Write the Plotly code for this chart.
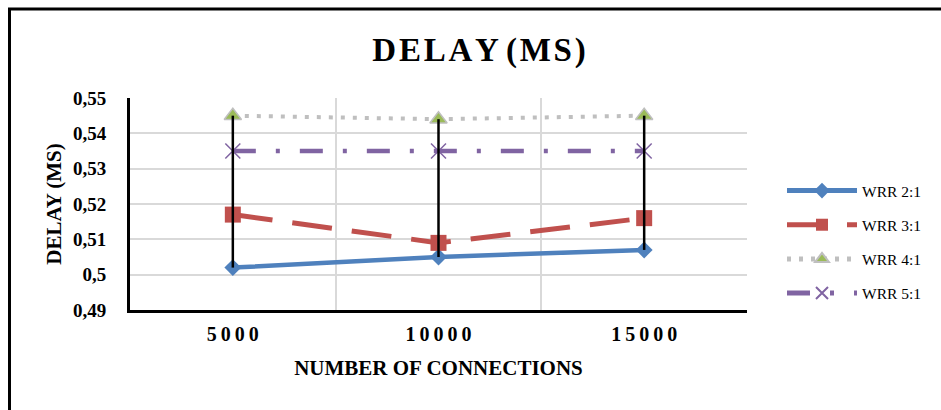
import plotly.graph_objects as go

# ---- data ----
categories = ["5000", "10000", "15000"]
series_names = ["WRR 2:1", "WRR 3:1", "WRR 4:1", "WRR 5:1"]
wrr_2_1 = [0.502, 0.505, 0.507]
wrr_3_1 = [0.517, 0.509, 0.516]
wrr_4_1 = [0.545, 0.544, 0.545]
wrr_5_1 = [0.535, 0.535, 0.535]
y_ticks = [0.49, 0.50, 0.51, 0.52, 0.53, 0.54, 0.55]

title_text = "DELAY (MS)"
x_title = "NUMBER OF CONNECTIONS"
y_title = "DELAY (MS)"

FONT = "Liberation Serif, Times New Roman, serif"
THIN = "\u2009"
HAIR = "\u200A"

def spaced(s, sep=THIN):
    return sep.join(list(s))

styles = [
    dict(line=dict(color="#4F81BD", width=4.5, dash="solid"),
         marker=dict(symbol="diamond", size=13, color="#4F81BD")),
    dict(line=dict(color="#C0504D", width=5, dash="40px,20px"),
         marker=dict(symbol="square", size=16, color="#C0504D")),
    dict(line=dict(color="#BFBFBF", width=4, dash="4px,8px"),
         marker=dict(symbol="triangle-up", size=15, color="#9BBB59",
                     line=dict(color="#BFBFBF", width=1.5))),
    dict(line=dict(color="#8064A2", width=4.5, dash="23px,20px,4px,20px"),
         marker=dict(symbol="x-thin-open", size=15, color="#8064A2",
                     line=dict(color="#8064A2", width=1.5))),
]

fig = go.Figure()
all_series = [wrr_2_1, wrr_3_1, wrr_4_1, wrr_5_1]
for name, vals, st in zip(series_names, all_series, styles):
    fig.add_trace(go.Scatter(
        x=categories, y=vals, name=name, mode="lines+markers",
        legendgroup=name, **st))

# high-low lines
for i, c in enumerate(categories):
    col = [s[i] for s in all_series]
    fig.add_trace(go.Scatter(
        x=[c, c], y=[min(col), max(col)], mode="lines",
        line=dict(color="black", width=2.5), showlegend=False,
        hoverinfo="skip"))

L, R, T, B = 130, 194, 98, 100
W, H = 941, 410
pw, ph = W - L - R, H - T - B

def px_x(x):
    return (x - L) / pw

def px_y(y):
    return (H - B - y) / ph

fig.update_layout(
    width=W, height=H,
    margin=dict(l=L, r=R, t=T, b=B),
    paper_bgcolor="white", plot_bgcolor="white",
    separators=", ",
    font=dict(family=FONT, color="black"),
    title=dict(text=" ".join(spaced(w, HAIR) for w in title_text.split(" ")),
               font=dict(size=33, family=FONT, weight="bold", color="black"),
               x=px_x(479), xref="paper", xanchor="center",
               y=1 - 49 / H, yref="container", yanchor="middle"),
    showlegend=True,
    legend=dict(x=px_x(782), y=px_y(242), xanchor="left", yanchor="middle",
                font=dict(size=15.5, family=FONT, color="black"),
                itemwidth=70, itemsizing="constant", tracegroupgap=11,
                bgcolor="rgba(0,0,0,0)"),
    xaxis=dict(type="category", categoryorder="array", categoryarray=categories,
               range=[-0.5, len(categories) - 0.5],
               tickmode="array", tickvals=categories,
               ticktext=[spaced(c) for c in categories],
               tickson="boundaries", showgrid=True, gridcolor="#D9D9D9",
               gridwidth=1.5, ticks="", showline=True, linecolor="black",
               linewidth=3, zeroline=False,
               tickfont=dict(size=20, family=FONT, weight="bold", color="black"),
               ticklabelstandoff=4,
               title=dict(text=x_title, standoff=17,
                          font=dict(size=21, family=FONT, weight="bold",
                                    color="black"))),
    yaxis=dict(range=[0.49, 0.55], tickmode="array", tickvals=y_ticks,
               tickformat="~g", showgrid=True, gridcolor="#D9D9D9",
               gridwidth=1.5, ticks="", showline=True, linecolor="black",
               linewidth=3, zeroline=False,
               tickfont=dict(size=19, family=FONT, weight="bold", color="black"),
               ticklabelstandoff=17,
               title=dict(text=y_title, standoff=6,
                          font=dict(size=21, family=FONT, weight="bold",
                                    color="black"))),
    shapes=[dict(type="rect", xref="paper", yref="paper",
                 x0=px_x(9.5), x1=px_x(990), y0=px_y(460), y1=px_y(9),
                 line=dict(color="black", width=3), layer="below")],
)

fig.write_html("out.html",
               config={"displayModeBar": False},
               post_script="document.body.style.margin='0';"
                           "document.body.style.padding='0';")
